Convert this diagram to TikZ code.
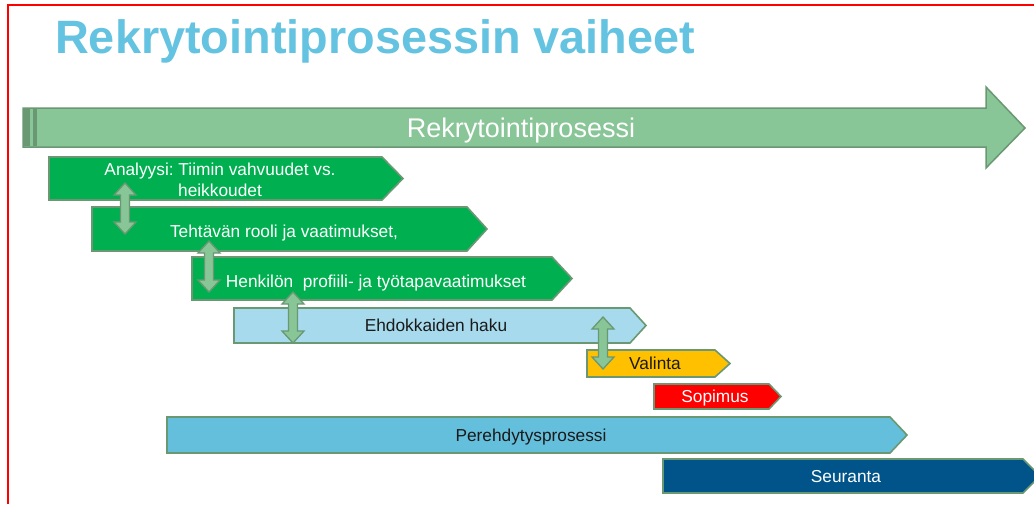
\documentclass[tikz,border=0pt]{standalone}
\usepackage{fontspec}
\setmainfont{Liberation Sans}
\usetikzlibrary{calc}
\frenchspacing
\definecolor{titleblue}{HTML}{64C3E1}
\definecolor{arrowgreen}{HTML}{88C597}
\definecolor{edgegreen}{HTML}{6A9873}
\definecolor{stagegreen}{HTML}{00B050}
\definecolor{lightblue}{HTML}{A6DAEC}
\definecolor{midblue}{HTML}{64BFDD}
\definecolor{darkblue}{HTML}{01548A}
\definecolor{stageorange}{HTML}{FFC000}
\definecolor{stagered}{HTML}{FF0000}
\definecolor{frame}{HTML}{FF0000}
\definecolor{darktext}{HTML}{1A1A1A}
\tikzset{
  stagebox/.style={draw=edgegreen, line width=1.6pt, line join=miter},
  lbl/.style={inner sep=0pt, anchor=base, font=\fontsize{17.3}{21}\selectfont, text=white},
  dlbl/.style={lbl, text=darktext},
  dblstyle/.style={draw=edgegreen, fill=arrowgreen, line width=1.3pt, line join=miter},
}
% x1, y1, x body end, x tip, y2, fill
\newcommand\stageshape[6]{%
  \path[stagebox, fill=#6] (#1,#2) -- (#3,#2) -- (#4,{(#2+#5)/2}) -- (#3,#5) -- (#1,#5) -- cycle;}
\newcommand\dblarrow[2]{%
  \path[dblstyle] let \p1=(#1), \p2=(#2) in
    (\x1,\y1) -- (\x1+11pt,\y1-12pt) -- (\x1+4.5pt,\y1-12pt) -- (\x2+4.5pt,\y2+12pt)
    -- (\x2+11pt,\y2+12pt) -- (\x2,\y2) -- (\x2-11pt,\y2+12pt) -- (\x2-4.5pt,\y2+12pt)
    -- (\x1-4.5pt,\y1-12pt) -- (\x1-11pt,\y1-12pt) -- cycle;}
\begin{document}
\begin{tikzpicture}[x=1pt,y=-1pt]
\useasboundingbox (0,0) rectangle (1034,504);
\clip (0,0) rectangle (1034,504);
\fill[white] (0,0) rectangle (1034,504);
% frame
\draw[frame, line width=2pt] (8,504) -- (8,5) -- (1040,5);
% title
\node[anchor=base west, inner sep=0pt, text=titleblue,
      font=\fontsize{46.8}{50}\selectfont\bfseries] (title) at (55,53) {Rekrytointiprosessin vaiheet};
% big process arrow
\path[draw=edgegreen, fill=arrowgreen, line width=1.5pt, line join=miter]
  (23,108) -- (986,108) -- (986,87) -- (1025,128) -- (986,168) -- (986,147) -- (23,147) -- cycle;
\fill[edgegreen] (24,109) rectangle (37,146);
\fill[arrowgreen] (30,109) rectangle (33,146);
\node[inner sep=0pt, anchor=base, text=white, font=\fontsize{27}{30}\selectfont] (rek) at (521,137) {Rekrytointiprosessi};
% stages
\stageshape{49}{157}{382}{403}{200}{stagegreen}
\stageshape{92}{207}{467}{487}{251}{stagegreen}
\stageshape{192}{257}{552}{572}{300}{stagegreen}
\stageshape{234}{308}{630}{646}{343}{lightblue}
\stageshape{587}{350}{715}{730}{377}{stageorange}
\stageshape{654}{384}{769}{781}{409}{stagered}
\stageshape{167}{417}{890}{907}{453}{midblue}
\stageshape{663}{459}{1023}{1040}{493}{darkblue}
% labels
\node[lbl, anchor=north, align=center] (analyysi) at (220,162.6) {Analyysi: Tiimin vahvuudet vs.\\heikkoudet};
\node[lbl] (tehtava) at (284,237) {Tehtävän rooli ja vaatimukset,};
\node[lbl] (henkilo) at (376,287) {Henkilön\ \ profiili- ja työtapavaatimukset};
\node[dlbl] (haku) at (436,331.5) {Ehdokkaiden haku};
\node[dlbl] (valinta) at (655,369.5) {Valinta};
\node[lbl] (sopimus) at (715,402.5) {Sopimus};
\node[dlbl] (pere) at (531,441) {Perehdytysprosessi};
\node[lbl] (seuranta) at (846,482) {Seuranta};
% double arrows between stages
\coordinate (a1t) at (125,183); \coordinate (a1b) at (125,234);
\coordinate (a2t) at (209,241); \coordinate (a2b) at (209,292);
\coordinate (a3t) at (293,292); \coordinate (a3b) at (293,343);
\coordinate (a4t) at (603,317); \coordinate (a4b) at (603,369);
\dblarrow{a1t}{a1b}
\dblarrow{a2t}{a2b}
\dblarrow{a3t}{a3b}
\dblarrow{a4t}{a4b}
\end{tikzpicture}
\end{document}
